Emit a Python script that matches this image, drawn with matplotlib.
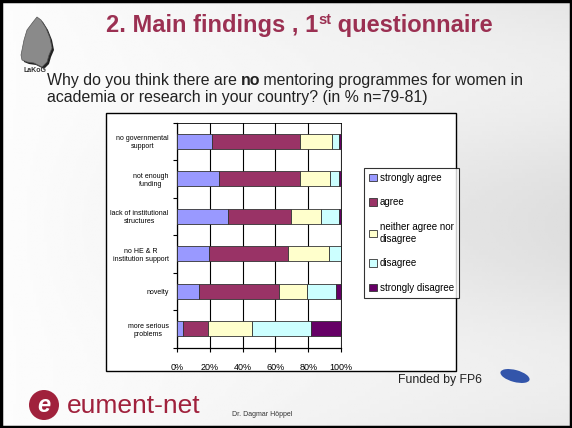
import matplotlib
matplotlib.use('Agg')
import matplotlib.pyplot as plt
import matplotlib.patches as mpatches
import numpy as np

plt.rcParams['font.family'] = ['Liberation Sans', 'DejaVu Sans']

# survey answers, % of respondents (n=79-81)
categories = ['no governmental\nsupport', 'not enough\nfunding', 'lack of institutional\nstructures',
              'no HE & R\ninstitution support', 'novelty', 'more serious\nproblems']
answers = ['strongly agree', 'agree', 'neither agree nor\ndisagree', 'disagree', 'strongly disagree']
strongly_agree = [21.6, 25.7, 31.4, 19.3, 13.6, 3.7]
agree = [53.6, 49.5, 38.3, 48.1, 48.7, 15.4]
neither = [19.1, 18.1, 17.9, 25.5, 16.9, 26.5]
disagree = [4.5, 5.5, 11.2, 7.1, 17.9, 36.3]
strongly_disagree = [1.2, 1.2, 1.2, 0.0, 2.9, 18.1]
xticks = [0, 20, 40, 60, 80, 100]
xticklabels = ['0%', '20%', '40%', '60%', '80%', '100%']

colors = ['#9999FF', '#993366', '#FFFFCC', '#CCFFFF', '#660066']
W, H = 572, 428

fig = plt.figure(figsize=(W / 100, H / 100), dpi=100)

# background axes in pixel coordinates (y down)
bg = fig.add_axes([0, 0, 1, 1])
bg.set_xlim(0, W)
bg.set_ylim(H, 0)
bg.axis('off')
grad = np.tile(np.linspace(0.99, 0.90, 200), (100, 1))
yy = np.linspace(0, 1, 100)[:, None]
grad = grad + 0.03 * np.sin(yy * 9) * np.linspace(0, 1, 200)[None, :]
bg.imshow(grad, extent=[0, W, H, 0], cmap='gray', vmin=0, vmax=1, aspect='auto', zorder=0)
bg.add_patch(mpatches.Rectangle((1, 1), W - 2, H - 2, fill=False, ec='black', lw=2.5, zorder=5))

renderer = fig.canvas.get_renderer()


def runs(x, y, parts, **kw):
    # draw text pieces one after another on the same baseline
    for txt, extra in parts:
        opts = dict(kw)
        opts.update(extra)
        dy = opts.pop('dy', 0)
        gap = opts.pop('gap', 0)
        t = bg.text(x, y + dy, txt, va='baseline', ha='left', **opts)
        x += t.get_window_extent(renderer).width + gap


# title
title_col = '#9B3052'
runs(106, 32, [('2. Main findings , 1', {}), ('st', {'fontsize': 10.5, 'dy': -8}),
               (' questionnaire', {})], fontsize=17, fontweight='bold', color=title_col)

# LaKoG logo
shape = np.array([[21, 55], [24, 40], [27, 30], [33, 22], [37, 17], [41, 20], [46, 28],
                  [50, 38], [52, 48], [49, 55], [47, 62], [42, 67], [34, 63], [27, 62], [22, 60]])
bg.add_patch(mpatches.Polygon(shape + [2, 2], closed=True, fc='#222222', ec='none', zorder=2))
bg.add_patch(mpatches.Polygon(shape, closed=True, fc='#8a8a8a', ec='#555555', lw=0.5, zorder=3))
bg.text(24, 72, 'LaKoG', fontsize=5, fontweight='bold', color='#333333', va='baseline')

# question
runs(47, 85, [('Why do you think there are ', {}), ('no', {'fontweight': 'bold', 'gap': -1.5}),
              (' mentoring programmes for women in', {})], fontsize=11.4, color='#222222')
bg.text(47, 102, 'academia or research in your country? (in % n=79-81)', fontsize=11.4,
        color='#222222', va='baseline')

# chart frame
bg.add_patch(mpatches.Rectangle((106, 113), 350, 258, fc='white', ec='black', lw=1.0, zorder=1))

# chart
ax = fig.add_axes([177 / W, 1 - 347.5 / H, 164 / W, 225 / H])
ax.set_facecolor('white')
ax.set_axisbelow(True)
y = np.arange(len(categories))
left = np.zeros(len(categories))
series = [strongly_agree, agree, neither, disagree, strongly_disagree]
handles = []
for vals, col, lab in zip(series, colors, answers):
    vals = np.array(vals)
    b = ax.barh(y, vals, left=left, height=0.4, color=col, edgecolor='#333333', linewidth=0.6,
                label=lab, zorder=3)
    handles.append(b)
    left = left + vals
ax.set_xlim(0, 100)
ax.set_ylim(len(categories) - 0.5, -0.5)
ax.set_xticks(xticks)
ax.set_xticklabels(xticklabels, fontsize=6.5)
ax.set_yticks(y)
ax.set_yticklabels(categories, fontsize=5, multialignment='center')
ax.set_yticks(np.arange(len(categories) + 1) - 0.5, minor=True)
ax.tick_params(axis='y', which='major', length=0, pad=6)
ax.tick_params(axis='y', which='minor', length=3, width=0.8, direction='out')
ax.tick_params(axis='x', length=3, width=0.8, direction='out', pad=8)
ax.xaxis.grid(True, color='black', lw=0.8)
for side in ['top', 'right']:
    ax.spines[side].set_linewidth(0.6)
for side in ['left', 'bottom']:
    ax.spines[side].set_linewidth(0.9)

leg = fig.legend(handles=handles, labels=answers, loc='upper left',
                 bbox_to_anchor=(364 / W, 1 - 168 / H), fontsize=7, frameon=True,
                 fancybox=False, edgecolor='black', handlelength=0.8, handleheight=0.8,
                 handletextpad=0.3, labelspacing=1.5, borderpad=0.5, borderaxespad=0)
leg.get_frame().set_linewidth(0.8)
for p in leg.get_patches():
    p.set_edgecolor('#333333')
    p.set_linewidth(0.6)

# footer
bg.add_patch(mpatches.Circle((44, 405), 15, fc='#A0213C', ec='none', zorder=3))
bg.text(44, 406, 'e', fontsize=17, fontweight='bold', fontstyle='italic', color='white',
        ha='center', va='center', zorder=4)
bg.text(67, 413, 'eument-net', fontsize=19, color='#A0213C', va='baseline', zorder=3)
bg.text(398, 383, 'Funded by FP6', fontsize=8.8, color='#222222', va='baseline', zorder=3)
bg.add_patch(mpatches.Ellipse((515, 376), 30, 12, angle=15, fc='#3355AA', ec='none', zorder=3))
bg.text(232, 416, 'Dr. Dagmar Höppel', fontsize=5, color='#333333', va='baseline', zorder=3)

fig.savefig('out.png', dpi=100)
